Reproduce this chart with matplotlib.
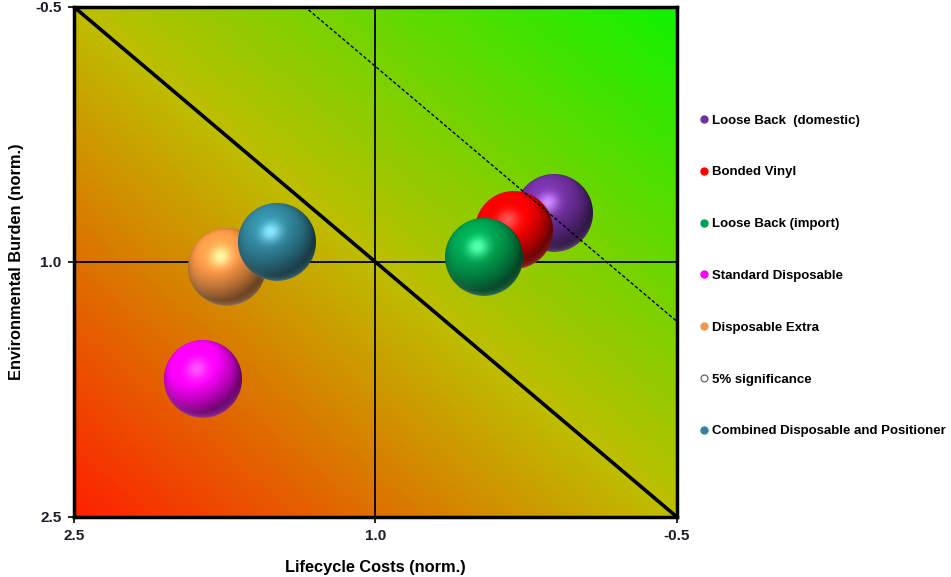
import numpy as np
import matplotlib
matplotlib.use("Agg")
import matplotlib.pyplot as plt
from matplotlib.colors import LinearSegmentedColormap, to_rgb
from matplotlib.lines import Line2D
from matplotlib.offsetbox import OffsetImage, AnnotationBbox

# Products: normalised lifecycle cost vs environmental burden
products = ["Loose Back  (domestic)", "Bonded Vinyl", "Loose Back (import)",
            "Standard Disposable", "Disposable Extra",
            "Combined Disposable and Positioner"]
cost = [0.11, 0.31, 0.46, 1.86, 1.74, 1.49]
burden = [0.71, 0.81, 0.97, 1.69, 1.03, 0.88]
colors = ["#7030A0", "#FF0000", "#00A050", "#FF00FF", "#F79646", "#31859C"]

# break-even line (x + y = 2) and 5% significance line (x + y = 0.85)
breakeven_sum = 2.0
signif_sum = 0.85

DPI = 100
fig = plt.figure(figsize=(9.51, 5.77), dpi=DPI)
ax = fig.add_axes([0.0778, 0.104, 0.634, 0.884])

# diagonal red -> yellow -> green background
cmap = LinearSegmentedColormap.from_list("bg", ["#FF2000", "#BEBE00", "#10F200"])
u, v = np.meshgrid(np.linspace(0, 1, 400), np.linspace(0, 1, 400))
ax.imshow((u + v) / 2, cmap=cmap, extent=[0, 1, 0, 1], transform=ax.transAxes,
          aspect="auto", origin="lower", zorder=0, interpolation="bilinear")

ax.set_xlim(2.5, -0.5)
ax.set_ylim(2.5, -0.5)

ax.axvline(1.0, color="black", lw=1.3, zorder=1)
ax.axhline(1.0, color="black", lw=1.3, zorder=1)
xs = np.array([2.5, -0.5])
ax.plot(xs, breakeven_sum - xs, color="black", lw=2.6, zorder=2)
ax.plot(xs, signif_sum - xs, color="black", lw=1.0, ls=(0, (2.5, 1.5)), zorder=6)


def sphere(color, radius):
    n = 2 * radius + 2
    g = (np.arange(n) - (n - 1) / 2) / radius
    X, Y = np.meshgrid(g, -g)
    r2 = X ** 2 + Y ** 2
    Z = np.sqrt(np.clip(1 - r2, 0, 1))
    light = np.array([-0.3, 0.5, 0.8])
    light /= np.linalg.norm(light)
    dot = X * light[0] + Y * light[1] + Z * light[2]
    diff = np.clip(dot, 0, 1)
    # reflection for the soft highlight
    rz = 2 * dot * Z - light[2]
    spec = np.clip(rz, 0, 1) ** 7
    rim = np.clip(-Y, 0, 1) * (1 - Z) ** 2 * 0.3
    base = np.array(to_rgb(color))
    rgb = base[None, None, :] * (0.4 + 0.75 * diff[..., None])
    rgb = rgb + (0.33 * spec + rim)[..., None]
    rgb = np.clip(rgb, 0, 1)
    alpha = np.clip((1 - np.sqrt(r2)) * radius + 0.5, 0, 1)
    return np.dstack([rgb, alpha])


for i, (x, y, c) in enumerate(zip(cost, burden, colors)):
    img = OffsetImage(sphere(c, 39), zoom=72 / DPI)
    ab = AnnotationBbox(img, (x, y), xycoords="data", frameon=False, pad=0,
                        box_alignment=(0.5, 0.5), zorder=3 + i * 0.1)
    ax.add_artist(ab)

for s in ax.spines.values():
    s.set_linewidth(2.5)
    s.set_zorder(7)

tick_font = dict(family=["Liberation Sans", "DejaVu Sans"], weight="bold", size=11)
label_font = dict(family=["Liberation Sans", "DejaVu Sans"], weight="bold", size=11.8)
ax.set_xticks([2.5, 1.0, -0.5])
ax.set_xticklabels(["2.5", "1.0", "-0.5"], fontdict=tick_font, color="#1c1c28")
ax.set_yticks([-0.5, 1.0, 2.5])
ax.set_yticklabels(["-0.5", "1.0", "2.5"], fontdict=tick_font, color="#1c1c28")
ax.tick_params(length=4, width=1.2, pad=5)

ax.set_xlabel("Lifecycle Costs (norm.)", fontdict=label_font, labelpad=12)
ax.set_ylabel("Environmental Burden (norm.)", fontdict=label_font, labelpad=8)

# legend
handles = []
for name, c in zip(products[:5], colors[:5]):
    handles.append(Line2D([], [], ls="none", marker="o", ms=5, mfc=c, mec=c, label=name))
handles.append(Line2D([], [], ls="none", marker="o", ms=5, mfc="white",
                      mec="#555555", mew=0.8, label="5% significance"))
handles.append(Line2D([], [], ls="none", marker="o", ms=5, mfc=colors[5],
                      mec=colors[5], label=products[5]))
fig.legend(handles=handles, loc="upper left", bbox_to_anchor=(0.731, 0.811),
           frameon=False, labelspacing=3.0, handlelength=0.6, handletextpad=0.25,
           borderaxespad=0, prop=dict(family=["Liberation Sans", "DejaVu Sans"],
                                      weight="bold", size=9.5))

fig.savefig("out.png", dpi=DPI)
